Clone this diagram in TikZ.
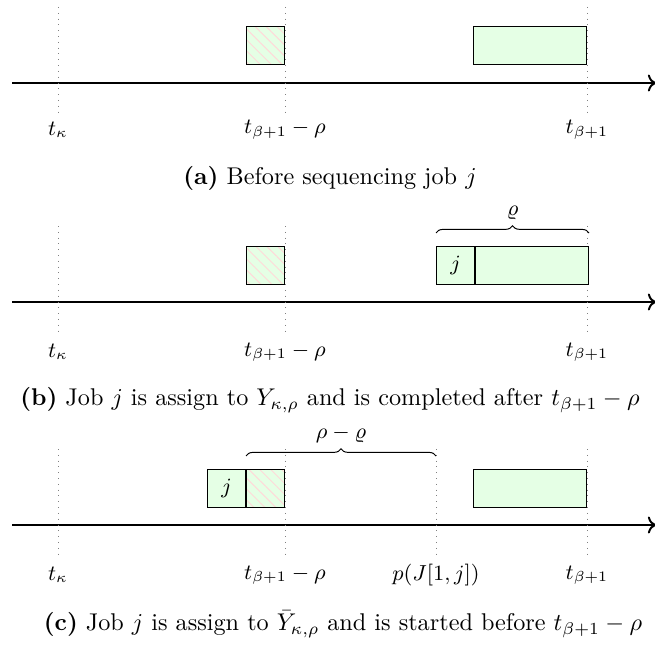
\documentclass[tikz,border=0pt]{standalone}
\usepackage{amsmath}
\usepackage{amssymb}
\usetikzlibrary{positioning,arrows.meta,decorations.pathreplacing,patterns.meta}

\begin{document}
\begin{tikzpicture}[x=0.413pt, y=-0.413pt,
    job/.style={rectangle, draw, fill=green!10, minimum height=15.7pt, inner sep=0pt, font=\small},
    hatched/.style={rectangle, draw, preaction={fill=green!10},
        pattern={Lines[angle=-45, distance=3.2pt, line width=0.4pt]}, pattern color=red!15,
        minimum width=15.7pt, minimum height=15.7pt, inner sep=0pt},
    timeline/.style={->, thick},
    guide/.style={draw=gray, dotted},
    tlabel/.style={font=\small},
    caption/.style={font=\normalsize},
    bracer/.style={decorate, decoration={brace, amplitude=3pt}}
]
\useasboundingbox (0,0) rectangle (655,648);

% ---------------- (a) ----------------
\coordinate (a-start) at (12,83);
\coordinate (a-end) at (656,83);
\draw[timeline] (a-start) -- (a-end);
\draw[guide] (58,7) -- (58,117);
\draw[guide] (285,7) -- (285,117);
\draw[guide] (587,7) -- (587,117);

\node[hatched, anchor=north east] (a-rest) at (285,26) {};
\node[job, minimum width=46.7pt, anchor=north east] (a-block) at (587,26) {};

\node[tlabel] (a-tk) at (58,130) {$t_{\kappa}$};
\node[tlabel] (a-tb) at (285,130) {$t_{\beta+1}-\rho$};
\node[tlabel] (a-tn) at (587,130) {$t_{\beta+1}$};
\node[caption] (a-cap) at (330,178) {\textbf{(a)} Before sequencing job $j$};

% ---------------- (b) ----------------
\coordinate (b-start) at (12,302);
\coordinate (b-end) at (656,302);
\draw[timeline] (b-start) -- (b-end);
\draw[guide] (58,226) -- (58,336);
\draw[guide] (285,226) -- (285,336);
\draw[guide] (587,226) -- (587,336);

\node[hatched, anchor=north east] (b-rest) at (285,246) {};
\node[job, minimum width=15.7pt, anchor=north west] (b-j) at (436,246) {$j$};
\node[job, minimum width=46.7pt, anchor=north west] (b-block) at (b-j.north east) {};

% brace over job j and block
\draw[bracer] (b-j.north west) ++(0,-13) coordinate (b-l) -- (b-block.north east |- b-l)
    node[midway, above=2pt, tlabel] (b-rho) {$\varrho$};

\node[tlabel] (b-tk) at (58,352) {$t_{\kappa}$};
\node[tlabel] (b-tb) at (285,352) {$t_{\beta+1}-\rho$};
\node[tlabel] (b-tn) at (587,352) {$t_{\beta+1}$};
\node[caption] (b-cap) at (330,400) {\textbf{(b)} Job $j$ is assign to $Y_{\kappa,\rho}$ and is completed after $t_{\beta+1}-\rho$};

% ---------------- (c) ----------------
\coordinate (c-start) at (12,525);
\coordinate (c-end) at (656,525);
\draw[timeline] (c-start) -- (c-end);
\draw[guide] (58,449) -- (58,559);
\draw[guide] (285,449) -- (285,559);
\draw[guide] (436,449) -- (436,559);
\draw[guide] (587,449) -- (587,559);

\node[hatched, anchor=north east] (c-rest) at (285,469) {};
\node[job, minimum width=15.7pt, anchor=north east] (c-j) at (c-rest.north west) {$j$};
\node[job, minimum width=46.7pt, anchor=north east] (c-block) at (587,469) {};

% brace from the hatched part to p(J[1,j])
\draw[bracer] (c-rest.north west) ++(0,-13) coordinate (c-l) -- (436,0 |- c-l)
    node[midway, above=2pt, tlabel] (c-diff) {$\rho-\varrho$};

\node[tlabel] (c-tk) at (58,575) {$t_{\kappa}$};
\node[tlabel] (c-tb) at (285,575) {$t_{\beta+1}-\rho$};
\node[tlabel] (c-p) at (436,575) {$p(J[1,j])$};
\node[tlabel] (c-tn) at (587,575) {$t_{\beta+1}$};
\node[caption] (c-cap) at (343,624) {\textbf{(c)} Job $j$ is assign to $\bar{Y}_{\kappa,\rho}$ and is started before $t_{\beta+1}-\rho$};

\end{tikzpicture}
\end{document}
